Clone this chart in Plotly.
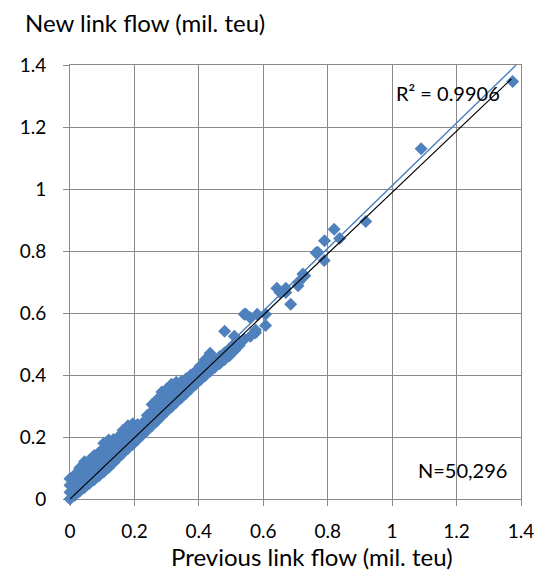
import plotly.graph_objects as go

# Scatter points (previous flow, new flow), mil. teu
prev_flow = [
    0.000, 0.000, 0.000, 0.000,
    0.015, 0.015, 0.015, 0.015,
    0.030, 0.030, 0.030, 0.030,
    0.045, 0.045, 0.045, 0.045, 0.045,
    0.060, 0.060, 0.060, 0.060,
    0.075, 0.075, 0.075, 0.075,
    0.090, 0.090, 0.090, 0.090,
    0.105, 0.105, 0.105, 0.105, 0.105,
    0.120, 0.120, 0.120, 0.120, 0.120,
    0.135, 0.135, 0.135, 0.135,
    0.150, 0.150, 0.150, 0.150,
    0.165, 0.165, 0.165, 0.165,
    0.180, 0.180, 0.180, 0.180,
    0.195, 0.195, 0.195, 0.195,
    0.210, 0.210, 0.210,
    0.225, 0.225, 0.225,
    0.240, 0.240, 0.240,
    0.255, 0.255, 0.255, 0.255,
    0.270, 0.270, 0.270, 0.270,
    0.285, 0.285, 0.285, 0.285,
    0.300, 0.300, 0.300, 0.300,
    0.315, 0.315, 0.315, 0.315,
    0.330, 0.330, 0.330, 0.330,
    0.345, 0.345, 0.345,
    0.360, 0.360, 0.360,
    0.375, 0.375, 0.375,
    0.390, 0.390, 0.390,
    0.405, 0.405, 0.405,
    0.420, 0.420, 0.420,
    0.435, 0.435, 0.435,
    0.450, 0.450,
    0.465, 0.465,
    0.480, 0.480, 0.480,
    0.495, 0.495,
    0.510, 0.510, 0.510,
    0.525,
    0.541, 0.541,
    0.546,
    0.560, 0.560,
    0.576, 0.576,
    0.581,
    0.607, 0.607,
    0.642, 0.652, 0.670, 0.670, 0.685,
    0.708, 0.710, 0.723, 0.729,
    0.764, 0.769, 0.789, 0.790, 0.820, 0.837,
    0.918, 1.090, 1.374,
]
new_flow = [
    0.000, 0.022, 0.044, 0.065,
    0.012, 0.034, 0.056, 0.078,
    0.025, 0.050, 0.075, 0.100,
    0.037, 0.060, 0.085, 0.110, 0.120,
    0.050, 0.075, 0.100, 0.125,
    0.062, 0.087, 0.112, 0.140,
    0.075, 0.100, 0.125, 0.150,
    0.088, 0.113, 0.138, 0.163, 0.180,
    0.102, 0.127, 0.152, 0.177, 0.190,
    0.117, 0.142, 0.167, 0.192,
    0.133, 0.158, 0.183, 0.200,
    0.148, 0.173, 0.198, 0.222,
    0.163, 0.188, 0.213, 0.236,
    0.177, 0.200, 0.222, 0.243,
    0.192, 0.217, 0.240,
    0.207, 0.228, 0.245,
    0.222, 0.246, 0.270,
    0.237, 0.260, 0.283, 0.305,
    0.252, 0.275, 0.298, 0.320,
    0.268, 0.292, 0.318, 0.345,
    0.283, 0.307, 0.331, 0.355,
    0.297, 0.322, 0.347, 0.370,
    0.312, 0.335, 0.358, 0.377,
    0.326, 0.352, 0.378,
    0.340, 0.365, 0.388,
    0.356, 0.378, 0.400,
    0.370, 0.392, 0.412,
    0.385, 0.408, 0.430,
    0.398, 0.425, 0.450,
    0.412, 0.440, 0.470,
    0.425, 0.445,
    0.437, 0.460,
    0.450, 0.472, 0.541,
    0.462, 0.485,
    0.478, 0.500, 0.525,
    0.495,
    0.515, 0.596,
    0.596,
    0.585, 0.525,
    0.536, 0.545,
    0.596,
    0.596, 0.560,
    0.680, 0.666, 0.666, 0.680, 0.628,
    0.688, 0.700, 0.726, 0.720,
    0.794, 0.796, 0.769, 0.833, 0.870, 0.840,
    0.895, 1.130, 1.347,
]

# Linear trend line (blue) and reference line (black)
trend_x = [0.0, 1.385]
trend_y = [0.0, 1.400]
ref_x = [0.0, 1.370]
ref_y = [0.0, 1.355]

tick_vals = [0, 0.2, 0.4, 0.6, 0.8, 1.0, 1.2, 1.4]
tick_text = ["0", "0.2", "0.4", "0.6", "0.8", "1", "1.2", "1.4"]

y_title = "New link flow (mil. teu)"
x_title = "Previous link flow (mil. teu)"
r2_label = "R² = 0.9906"
n_label = "N=50,296"

BLUE = "#4F81BD"
GRID = "#888888"
FONT = "Lato"

fig = go.Figure()
fig.add_trace(go.Scatter(
    x=prev_flow, y=new_flow, mode="markers",
    marker=dict(symbol="diamond", size=10, color=BLUE, line=dict(width=0)),
    cliponaxis=False, hoverinfo="skip", showlegend=False,
))
fig.add_trace(go.Scatter(
    x=trend_x, y=trend_y, mode="lines",
    line=dict(color=BLUE, width=1.5), cliponaxis=False, showlegend=False,
))
fig.add_trace(go.Scatter(
    x=ref_x, y=ref_y, mode="lines",
    line=dict(color="black", width=1.2), cliponaxis=False, showlegend=False,
))

axis_common = dict(
    range=[0, 1.4], tickvals=tick_vals, ticktext=tick_text,
    showgrid=True, gridcolor=GRID, gridwidth=1,
    showline=True, linecolor=GRID, linewidth=1, mirror=True,
    ticks="outside", ticklen=6, tickcolor=GRID, tickwidth=1,
    zeroline=False, layer="below traces",
    tickfont=dict(family=FONT, size=19, color="black"),
)
fig.update_xaxes(**axis_common, ticklabelstandoff=9)
fig.update_yaxes(**axis_common, ticklabelstandoff=13)

fig.update_layout(
    width=538, height=571,
    margin=dict(l=54, r=24, t=57, b=80),
    paper_bgcolor="white", plot_bgcolor="white",
    font=dict(family=FONT, color="black"),
    annotations=[
        dict(text=y_title, xref="paper", yref="paper", x=-0.104, y=1.099,
             xanchor="left", yanchor="middle", showarrow=False,
             font=dict(size=24, family=FONT)),
        dict(text=x_title, xref="paper", yref="paper", x=0.537, y=-0.133,
             xanchor="center", yanchor="middle", showarrow=False,
             font=dict(size=24, family=FONT)),
        dict(text=r2_label, xref="paper", yref="paper", x=0.719, y=0.935,
             xanchor="left", yanchor="middle", showarrow=False,
             font=dict(size=20, family=FONT)),
        dict(text=n_label, xref="paper", yref="paper", x=0.767, y=0.0657,
             xanchor="left", yanchor="middle", showarrow=False,
             font=dict(size=20, family=FONT)),
    ],
)

fig.write_html("out.html")
